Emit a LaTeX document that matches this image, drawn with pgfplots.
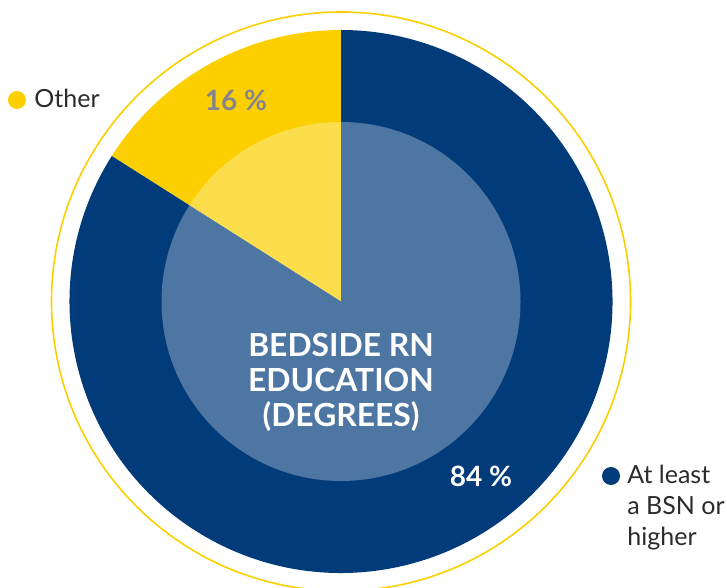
\documentclass[border=0pt]{standalone}
\usepackage{pgfplots}
\pgfplotsset{compat=1.18}
\usepackage{pgfplotstable}
\usepackage{fontspec}
\setmainfont{Lato}
\definecolor{navy}{HTML}{023B7A}
\definecolor{gold}{HTML}{FCD000}
\definecolor{pctgray}{HTML}{85858F}
\definecolor{txt}{HTML}{2B2B2B}

\pgfplotstableread{
label value
Other 16
BSN 84
}\piedata

\begin{document}
\begin{tikzpicture}
\pgfplotstablegetelem{0}{value}\of\piedata \let\vOther\pgfplotsretval
\pgfplotstablegetelem{1}{value}\of\piedata \let\vBSN\pgfplotsretval
\pgfmathsetmacro\aA{90}
\pgfmathsetmacro\aB{90+3.6*\vOther}
\pgfmathsetmacro\aC{\aB+3.6*\vBSN}
\begin{axis}[hide axis, scale only axis, width=363.5pt, height=294pt,
  xmin=0, xmax=727, ymin=0, ymax=588, clip=true]
\addplot[draw=none, forget plot] coordinates {(341,286.5)};
% slices
\fill[gold] (axis cs:341,286.5) -- ++(\aA:135.75pt) arc[start angle=\aA, end angle=\aB, radius=135.75pt] -- cycle;
\fill[navy] (axis cs:341,286.5) -- ++(\aB:135.75pt) arc[start angle=\aB, end angle=\aC, radius=135.75pt] -- cycle;
% inner lighter disc
\fill[white, opacity=0.3] (axis cs:341,286.5) circle[radius=89.75pt];
% outer ring
\draw[gold, line width=0.8pt] (axis cs:341,286.5) circle[radius=144.75pt];
% center title
\node[white, font=\bfseries\fontsize{15.9}{17.5}\selectfont, align=center] at (axis cs:341,206) {BEDSIDE RN\\EDUCATION\\(DEGREES)};
% percentages
\node[pctgray, font=\bfseries\fontsize{14}{16}\selectfont] at (axis cs:236,488) {16 \%};
\node[white, font=\bfseries\fontsize{14}{16}\selectfont] at (axis cs:481,112) {84 \%};
% legend
\fill[gold] (axis cs:17,488) circle[radius=4.5pt];
\fill[navy] (axis cs:611,112) circle[radius=4.5pt];
\node[txt, anchor=base west, inner sep=0pt, font=\fontsize{12.5}{15.5}\selectfont] at (axis cs:34,480) {Other};
\node[txt, anchor=north west, inner sep=0pt, align=left, font=\fontsize{12.5}{15.5}\selectfont] at (axis cs:627,123) {At least\\a BSN or\\higher};
\end{axis}
\pgfresetboundingbox
\useasboundingbox (current axis.south west) rectangle (current axis.north east);
\end{tikzpicture}
\end{document}
